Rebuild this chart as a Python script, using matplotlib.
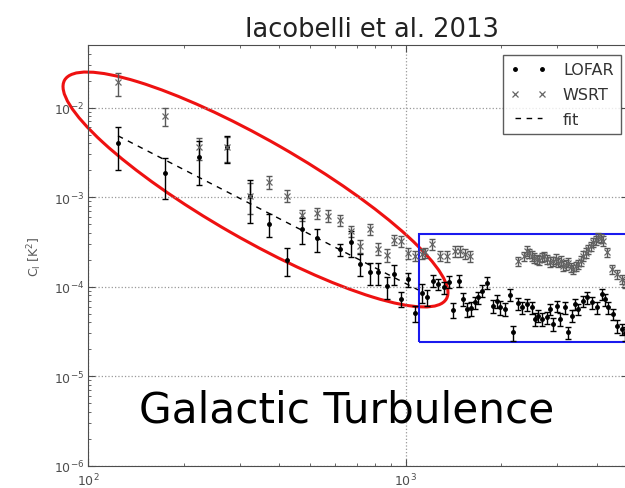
import matplotlib
matplotlib.use('Agg')
import matplotlib.pyplot as plt
from matplotlib.patches import Ellipse, Rectangle
import numpy as np

# LOFAR points (multipole l, C_l [K^2], 1-sigma error)
lofar_l = [124, 175, 223, 273, 323, 372, 422, 470, 524, 621, 671, 718, 772, 815, 870,
           919, 966, 1019, 1070, 1123, 1167, 1222, 1267, 1320, 1372, 1413, 1475, 1519,
           1557, 1603, 1654, 1694, 1736, 1800, 1888, 1935, 1982, 2056, 2132, 2183, 2264,
           2320, 2406, 2495, 2555, 2617, 2682, 2781, 2849, 2917, 2990, 3062, 3176, 3253,
           3334, 3415, 3499, 3627, 3718, 3855, 3998, 4146, 4246, 4349, 4509, 4622, 4792, 4909]
lofar_c = [4.0e-3, 1.86e-3, 2.78e-3, 3.6e-3, 1.04e-3, 5.0e-4, 2.0e-4, 4.4e-4, 3.46e-4,
           2.62e-4, 3.17e-4, 1.81e-4, 1.45e-4, 1.45e-4, 1.01e-4, 1.38e-4, 7.25e-5, 1.21e-4,
           5.06e-5, 8.6e-5, 7.57e-5, 1.16e-4, 1.07e-4, 9.8e-5, 1.13e-4, 5.5e-5, 1.16e-4,
           7.25e-5, 5.6e-5, 5.71e-5, 6.66e-5, 7.57e-5, 8.98e-5, 1.11e-4, 6.1e-5, 6.94e-5,
           5.86e-5, 5.6e-5, 8.1e-5, 3.08e-5, 6.54e-5, 5.86e-5, 6.37e-5, 5.86e-5, 4.33e-5,
           4.72e-5, 4.33e-5, 4.53e-5, 5.6e-5, 3.81e-5, 6.1e-5, 4.33e-5, 5.86e-5, 3.08e-5,
           4.72e-5, 6.37e-5, 5.6e-5, 6.94e-5, 7.57e-5, 6.66e-5, 5.86e-5, 8.25e-5, 7.25e-5,
           5.86e-5, 4.93e-5, 3.65e-5, 3.35e-5, 3.0e-5]
lofar_e = [2.0e-3, 0.9e-3, 1.4e-3, 1.2e-3, 0.52e-3, 1.45e-4, 0.7e-4, 1.4e-4, 1.0e-4,
           0.4e-4, 1.0e-4, 0.5e-4, 0.4e-4, 0.4e-4, 0.28e-4, 0.35e-4, 1.4e-5, 2.2e-5,
           1.05e-5, 2.0e-5, 1.5e-5, 1.8e-5, 1.6e-5, 1.5e-5, 1.7e-5, 1.0e-5, 1.8e-5,
           1.2e-5, 1.0e-5, 1.0e-5, 1.1e-5, 1.2e-5, 1.4e-5, 1.6e-5, 1.0e-5, 1.1e-5,
           1.0e-5, 0.9e-5, 1.2e-5, 0.6e-5, 1.0e-5, 0.9e-5, 1.0e-5, 0.9e-5, 0.7e-5,
           0.7e-5, 0.7e-5, 0.7e-5, 0.8e-5, 0.6e-5, 0.9e-5, 0.7e-5, 0.9e-5, 0.5e-5,
           0.7e-5, 0.9e-5, 0.8e-5, 1.0e-5, 1.1e-5, 1.0e-5, 0.9e-5, 1.2e-5, 1.1e-5,
           0.9e-5, 0.7e-5, 0.6e-5, 0.5e-5, 0.5e-5]

# WSRT points
wsrt_l = [124, 175, 223, 273, 323, 372, 422, 470, 524, 570, 621, 671, 718, 772, 815,
          870, 919, 966, 1019, 1070, 1123, 1150, 1210, 1282, 1346, 1430, 1482, 1537, 1593,
          2264, 2350, 2406, 2450, 2495, 2540, 2586, 2630, 2682, 2730, 2781, 2850, 2917,
          2970, 3020, 3080, 3130, 3190, 3253, 3310, 3370, 3430, 3499, 3560, 3627, 3690,
          3760, 3830, 3900, 3970, 4045, 4120, 4195, 4300, 4460, 4622, 4792, 4909]
wsrt_c = [1.91e-2, 8.1e-3, 3.59e-3, 3.59e-3, 1.04e-3, 1.48e-3, 1.04e-3, 6.29e-4, 6.63e-4,
          6.21e-4, 5.53e-4, 4.2e-4, 2.84e-4, 4.39e-4, 2.66e-4, 2.25e-4, 3.35e-4, 3.25e-4,
          2.37e-4, 2.21e-4, 2.31e-4, 2.41e-4, 2.98e-4, 2.21e-4, 2.18e-4, 2.51e-4, 2.51e-4,
          2.31e-4, 2.18e-4,
          1.94e-4, 2.2e-4, 2.51e-4, 2.35e-4, 2.21e-4, 2.1e-4, 2.03e-4, 1.98e-4, 2.12e-4,
          2.2e-4, 2.03e-4, 1.9e-4, 1.94e-4, 2.05e-4, 1.86e-4, 1.95e-4, 1.71e-4, 1.75e-4,
          1.86e-4, 1.65e-4, 1.57e-4, 1.7e-4, 1.78e-4, 1.95e-4, 2.21e-4, 2.4e-4, 2.62e-4,
          2.85e-4, 3.12e-4, 3.3e-4, 3.55e-4, 3.45e-4, 3.25e-4, 2.41e-4, 1.57e-4, 1.38e-4,
          1.21e-4, 1.1e-4]
wsrt_e = [5.5e-3, 1.9e-3, 1.0e-3, 1.1e-3, 0.4e-3, 0.25e-3, 0.15e-3, 0.9e-4, 0.9e-4,
          0.9e-4, 0.8e-4, 0.6e-4, 0.45e-4, 0.6e-4, 0.4e-4, 0.35e-4, 0.45e-4, 0.45e-4,
          0.35e-4, 0.3e-4, 0.3e-4, 0.3e-4, 0.4e-4, 0.3e-4, 0.3e-4, 0.35e-4, 0.35e-4,
          0.3e-4, 0.3e-4,
          2.3e-5, 2.6e-5, 3.0e-5, 2.8e-5, 2.6e-5, 2.5e-5, 2.4e-5, 2.4e-5, 2.5e-5,
          2.6e-5, 2.4e-5, 2.3e-5, 2.3e-5, 2.5e-5, 2.2e-5, 2.3e-5, 2.1e-5, 2.1e-5,
          2.2e-5, 2.0e-5, 1.9e-5, 2.0e-5, 2.1e-5, 2.3e-5, 2.6e-5, 2.9e-5, 3.1e-5,
          3.4e-5, 3.7e-5, 4.0e-5, 4.2e-5, 4.1e-5, 3.9e-5, 2.9e-5, 1.9e-5, 1.7e-5,
          1.5e-5, 1.3e-5]

# power-law fit, drawn between its two end points
fit_l = [124, 1094]
fit_c = [4.84e-3, 9.2e-5]

plt.rcParams['font.family'] = 'DejaVu Sans'
plt.rcParams['mathtext.fontset'] = 'dejavusans'

fig = plt.figure(figsize=(6.25, 4.89), dpi=100)
ax = fig.add_axes([88.3/625, 22.3/489, 539.3/625, 420.7/489])

ax.errorbar(wsrt_l, wsrt_c, yerr=wsrt_e, fmt='none', ecolor='0.35', elinewidth=1,
            capsize=2.5, capthick=1)
ax.errorbar(lofar_l, lofar_c, yerr=lofar_e, fmt='none', ecolor='k', elinewidth=1,
            capsize=2.5, capthick=1)
ax.plot(lofar_l, lofar_c, '.', color='k', ms=5, label='LOFAR')
ax.plot(wsrt_l, wsrt_c, 'x', color='0.4', ms=4.5, mew=0.9, label='WSRT')
ax.plot(fit_l, fit_c, '--', color='k', lw=1, dashes=(4, 4), label='fit')

ax.set_xscale('log')
ax.set_yscale('log')
ax.set_xlim(100, 5000)
ax.set_ylim(1e-6, 5e-2)
ax.grid(True, which='major', ls=':', color='0.6', lw=0.9)

for s in ax.spines.values():
    s.set_color('0.3')
ax.tick_params(which='both', direction='in', top=True, right=True, colors='0.3',
               labelsize=9, labelcolor='0.3')
ax.tick_params(which='major', length=5)
ax.tick_params(which='minor', length=2.5)
ax.tick_params(axis='y', pad=3)
ax.tick_params(axis='x', pad=4)

ax.set_ylabel(r'C$_\mathregular{l}$ [K$^2$]', fontsize=9, color='0.35')
ax.yaxis.set_label_coords(-0.082, 0.5)

leg = ax.legend(loc='upper left', bbox_to_anchor=(503/625, 1 - 56/489),
                bbox_transform=fig.transFigure, borderaxespad=0, numpoints=2,
                fontsize=11.5, frameon=True, fancybox=False, handlelength=2.3,
                labelspacing=0.62, borderpad=0.45, handletextpad=1.0)
leg.get_frame().set_edgecolor('0.2')
leg.get_frame().set_linewidth(1)
for t in leg.get_texts():
    t.set_color('0.2')

# annotations
ax.add_patch(Ellipse((2.555, 4.89 - 1.905), 4.40, 0.99, angle=-29.8, fill=False,
                     ec='#ee1111', lw=2.2, transform=fig.dpi_scale_trans, clip_on=False))
ax.add_patch(Rectangle((4.19, 1.457), 3.0, 1.083, fill=False, ec='#1a1aee', lw=1.5,
                       transform=fig.dpi_scale_trans, clip_on=False))

fig.text(372/625, 1 - 36.7/489, 'Iacobelli et al. 2013', ha='center', va='baseline',
         fontsize=18.5, color='#222222')
fig.text(139/625, (489 - 422.4)/489, 'Galactic Turbulence', ha='left', va='baseline',
         fontsize=30.3, color='black')

fig.savefig('out.png', dpi=100)
